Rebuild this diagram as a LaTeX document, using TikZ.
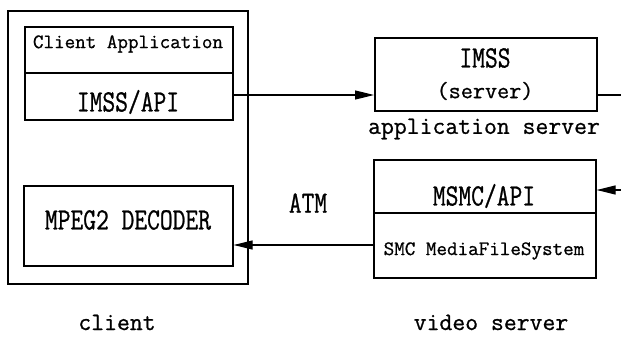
\documentclass[tikz,border=0pt]{standalone}
\usepackage{fontspec}
\usepackage{tikz}
\usetikzlibrary{positioning,arrows.meta,calc}
\newfontfamily\capsfont[FakeStretch=0.80,FakeBold=0.8]{Latin Modern Mono}
\newfontfamily\monofont[FakeBold=0.8]{Latin Modern Mono}

\tikzset{
  box/.style={draw, line width=1.6pt, inner sep=0pt, anchor=north west},
  bigcap/.style={font=\capsfont\fontsize{31}{32}\selectfont, inner sep=0pt},
  small/.style={font=\monofont\fontsize{20.5}{22}\selectfont, inner sep=0pt},
  tag/.style={font=\monofont\fontsize{25}{27}\selectfont, inner sep=0pt},
  arr/.style={line width=1.2pt, -{Triangle[length=19pt,width=9pt]}},
  wire/.style={line width=1.2pt}
}

\begin{document}
\begin{tikzpicture}[x=1pt,y=-1pt]
    \useasboundingbox (0,0) rectangle (621,337);
    % client side
    \node[box, line width=2pt, minimum width=240pt, minimum height=273pt] (client) at (7,10) {};
    \node[box, minimum width=208pt, minimum height=46pt] (clientapp) at (24,26) {};
    \node[box, minimum width=208pt, minimum height=47pt] (imssapi) at (24,72) {};
    \node[box, minimum width=209pt, minimum height=80pt] (mpeg) at (23,185) {};
    \node[small] (tclientapp) at (128,44) {Client Application};
    \node[bigcap] (timssapi) at (128,102) {IMSS/API};
    \node[bigcap] (tmpeg) at (128,220) {MPEG2 DECODER};
    % application server
    \node[box, minimum width=222pt, minimum height=73pt] (imss) at (374,37) {};
    \node[bigcap] (timss) at (485,58) {IMSS};
    \node[tag, font=\monofont\fontsize{23.5}{25}\selectfont] (tserver) at (485,91) {(server)};
    \node[tag] (appserver) at (484,129) {application server};
    % video server
    \node[box, minimum width=222pt, minimum height=53pt] (msmc) at (373,159) {};
    \node[box, minimum width=222pt, minimum height=65pt] (smc) at (373,212) {};
    \node[bigcap] (tmsmc) at (484,196) {MSMC/API};
    \node[small] (tsmc) at (484,251) {SMC MediaFileSystem};
    \node[bigcap] (atm) at (308,203) {ATM};
    % captions
    \node[tag, anchor=base] (lclient) at (117,330) {client};
    \node[tag, anchor=base] (lvideo) at (491,330) {video server};
    % links
    \coordinate (outA) at (621,95);
    \coordinate (inB) at (621,190);
    \coordinate (vsrc) at (373,245);
    \draw[arr] (232,95) coordinate (apiout) -- (apiout -| imss.west);
    \draw[wire] (imss.east |- outA) -- (outA);
    \draw[arr] (inB) -- (inB -| msmc.east);
    \draw[arr] (vsrc) -- (vsrc -| mpeg.east);
\end{tikzpicture}
\end{document}
